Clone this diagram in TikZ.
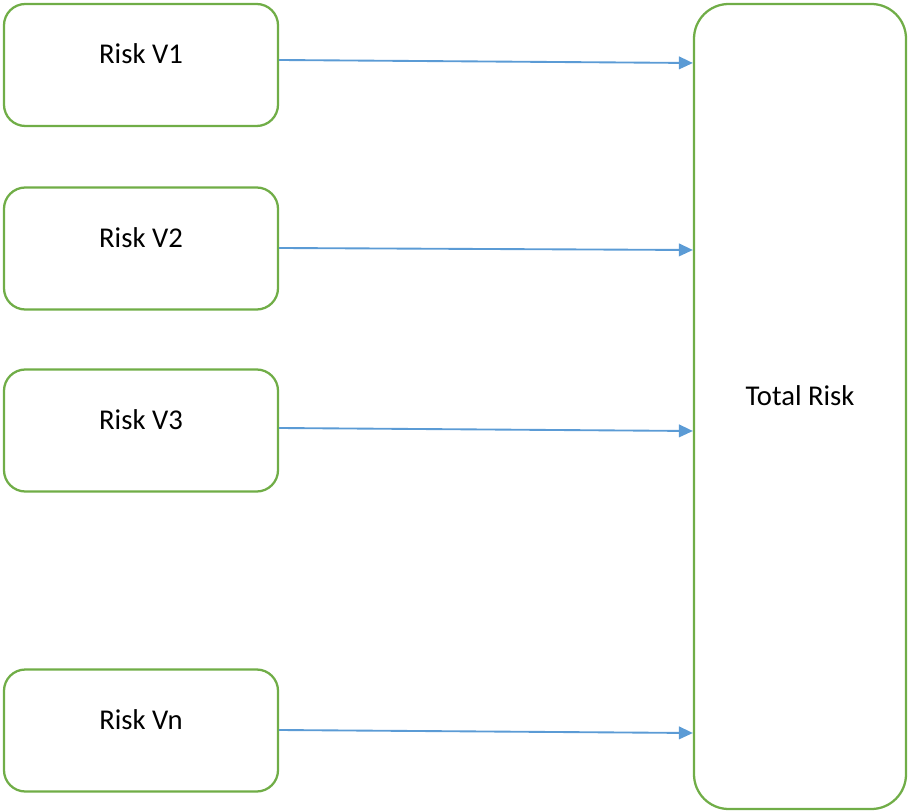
\documentclass[tikz,border=0pt]{standalone}
\usepackage{fontspec}
\setmainfont{Carlito}
\usetikzlibrary{arrows.meta}
\begin{document}
\begin{tikzpicture}[x=0.75pt,y=-0.75pt]
  \definecolor{riskgreen}{RGB}{112,173,71}
  \definecolor{riskblue}{RGB}{91,155,213}
  \tikzset{
    riskbox/.style={draw=riskgreen,line width=1.7pt,rounded corners=16pt,
      minimum width=205.5pt,minimum height=91.5pt,inner sep=0pt},
    totalbox/.style={draw=riskgreen,line width=1.7pt,rounded corners=26pt,
      minimum width=159pt,minimum height=603.75pt,inner sep=0pt},
    risktext/.style={anchor=base,font=\fontsize{21.5}{26}\selectfont},
    link/.style={draw=riskblue,line width=1.4pt,-{Triangle[length=10.5pt,width=9.5pt]}},
  }
  \useasboundingbox (0,0) rectangle (909,812);
  \node[totalbox] (tr) at (800,406.5) {};
  \node[risktext] (trt) at ([yshift=1pt]tr.center) {Total Risk};
  \foreach \n/\y/\ay/\by in {1/65/60/63, 2/248.5/248/250, 3/430.5/428/431, n/730.5/730/733} {
    \node[riskbox] (v\n) at (141,\y) {};
    \node[risktext] (t\n) at ([yshift=1pt]v\n.center) {Risk V\n};
    \draw[link] (v\n.east |- 0,\ay) -- (tr.west |- 0,\by);
  }
\end{tikzpicture}
\end{document}
